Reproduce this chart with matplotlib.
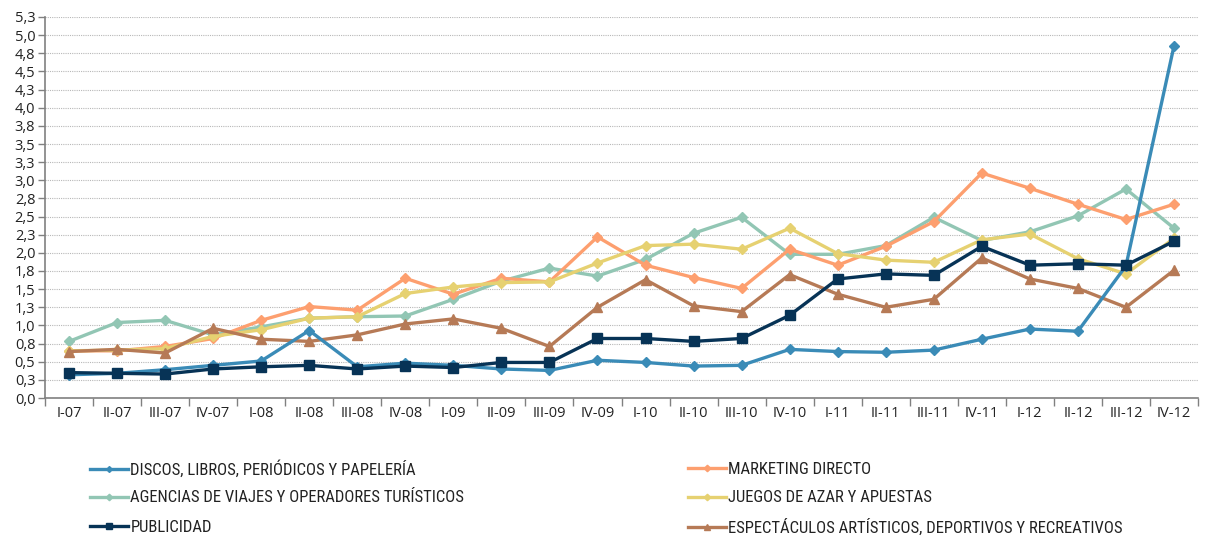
import matplotlib
matplotlib.use("Agg")
import matplotlib.pyplot as plt
from decimal import Decimal, ROUND_HALF_UP
from matplotlib import font_manager
from matplotlib.ticker import MultipleLocator, FuncFormatter

# 1) data
quarters = ["I-07", "II-07", "III-07", "IV-07", "I-08", "II-08", "III-08", "IV-08",
            "I-09", "II-09", "III-09", "IV-09", "I-10", "II-10", "III-10", "IV-10",
            "I-11", "II-11", "III-11", "IV-11", "I-12", "II-12", "III-12", "IV-12"]

discos = [0.32, 0.34, 0.39, 0.45, 0.51, 0.93, 0.43, 0.48, 0.45, 0.40, 0.38, 0.52,
          0.49, 0.44, 0.45, 0.67, 0.64, 0.63, 0.66, 0.81, 0.95, 0.92, 1.82, 4.85]
marketing = [0.65, 0.65, 0.71, 0.82, 1.07, 1.26, 1.21, 1.65, 1.43, 1.65, 1.60, 2.22,
             1.83, 1.66, 1.51, 2.05, 1.83, 2.09, 2.43, 3.10, 2.89, 2.67, 2.46, 2.67]
agencias = [0.78, 1.04, 1.07, 0.87, 0.98, 1.10, 1.12, 1.13, 1.36, 1.61, 1.79, 1.68,
            1.91, 2.27, 2.49, 1.98, 1.98, 2.10, 2.49, 2.17, 2.29, 2.51, 2.88, 2.34]
juegos = [0.65, 0.66, 0.68, 0.85, 0.94, 1.10, 1.12, 1.44, 1.53, 1.59, 1.60, 1.86,
          2.10, 2.12, 2.05, 2.34, 1.99, 1.90, 1.87, 2.18, 2.26, 1.92, 1.71, 2.20]
publicidad = [0.35, 0.34, 0.33, 0.40, 0.43, 0.45, 0.40, 0.44, 0.42, 0.49, 0.49, 0.82,
              0.82, 0.78, 0.82, 1.14, 1.64, 1.71, 1.69, 2.09, 1.83, 1.85, 1.83, 2.16]
espectaculos = [0.64, 0.67, 0.62, 0.96, 0.81, 0.78, 0.87, 1.02, 1.09, 0.96, 0.71, 1.25,
                1.63, 1.27, 1.19, 1.70, 1.43, 1.25, 1.36, 1.93, 1.64, 1.51, 1.25, 1.76]

# 2) style config
names = {
    "discos": "DISCOS, LIBROS, PERIÓDICOS Y PAPELERÍA",
    "marketing": "MARKETING DIRECTO",
    "agencias": "AGENCIAS DE VIAJES Y OPERADORES TURÍSTICOS",
    "juegos": "JUEGOS DE AZAR Y APUESTAS",
    "publicidad": "PUBLICIDAD",
    "espectaculos": "ESPECTÁCULOS ARTÍSTICOS, DEPORTIVOS Y RECREATIVOS",
}
colors = {
    "discos": "#3a8bb7",
    "marketing": "#fd9f6f",
    "agencias": "#92c6b4",
    "juegos": "#e6d171",
    "publicidad": "#073356",
    "espectaculos": "#b67a56",
}
markers = {
    "discos": "D", "marketing": "D", "agencias": "D",
    "juegos": "D", "publicidad": "s", "espectaculos": "^",
}
msizes = {
    "discos": 5, "marketing": 5.5, "agencias": 5.5,
    "juegos": 5.5, "publicidad": 6.5, "espectaculos": 6.5,
}
series = {
    "discos": discos, "marketing": marketing, "agencias": agencias,
    "juegos": juegos, "publicidad": publicidad, "espectaculos": espectaculos,
}
# drawing order (front-most last)
draw_order = ["agencias", "marketing", "juegos", "espectaculos", "discos", "publicidad"]

# look for a narrow face for the legend
fonts = font_manager.fontManager.ttflist
narrow_prop = None
for want in ["Liberation Sans Narrow", "Roboto Condensed", "Open Sans Condensed",
             "Noto Sans Condensed", "DejaVu Sans Condensed"]:
    if any(f.name == want for f in fonts):
        narrow_prop = {"family": want}
        break
if narrow_prop is None:
    cond = [f for f in fonts if str(f.stretch) in ("condensed", "semi-condensed", "600", "700")
            or "Condensed" in f.name or "Narrow" in f.name]
    cond = [f for f in cond if f.weight in (400, "normal", "regular") and f.style == "normal"]
    if cond:
        narrow_prop = {"fname": cond[0].fname}
legend_size = 12 if narrow_prop else 8.5
if narrow_prop is None:
    narrow_prop = {"family": "Liberation Sans"}

tick_font = "Open Sans"


def fmt_comma(v, pos):
    d = Decimal(str(round(v, 4))).quantize(Decimal("0.1"), rounding=ROUND_HALF_UP)
    return str(d).replace(".", ",")


# 3) figure
fig = plt.figure(figsize=(12.08, 5.36), dpi=100)
ax = fig.add_axes([45 / 1208, 1 - 398 / 536, (1198 - 45) / 1208, (398 - 17) / 536])

x = list(range(len(quarters)))
lines = {}
for key in draw_order:
    ln, = ax.plot(x, series[key], color=colors[key], lw=2.4, marker=markers[key],
                  ms=msizes[key], mec=colors[key], mfc=colors[key],
                  label=names[key], solid_joinstyle="round")
    lines[key] = ln

ax.set_xlim(-0.5, len(quarters) - 0.5)
ax.set_ylim(0, 5.25)

ax.yaxis.set_major_locator(MultipleLocator(0.25))
ax.yaxis.set_major_formatter(FuncFormatter(fmt_comma))
ax.grid(axis="y", color="#b8b8b8", lw=0.8, ls=(0, (1, 1)))
ax.set_axisbelow(True)

ax.set_xticks(x)
ax.set_xticklabels(quarters)
ax.set_xticks([i - 0.5 for i in range(len(quarters) + 1)], minor=True)
ax.tick_params(axis="x", which="major", length=0, pad=6, labelsize=10.5,
               labelcolor="#222222")
ax.tick_params(axis="x", which="minor", length=6, color="#808080", width=1)
ax.tick_params(axis="y", length=5, color="#808080", width=1, labelsize=10.5,
               labelcolor="#222222", pad=2)
for lab in ax.get_xticklabels() + ax.get_yticklabels():
    lab.set_fontfamily([tick_font, "DejaVu Sans"])

for s in ["top", "right"]:
    ax.spines[s].set_visible(False)
for s in ["left", "bottom"]:
    ax.spines[s].set_color("#808080")
    ax.spines[s].set_linewidth(1.2)

# 4) legend: one small legend per entry so rows line up across both columns
legend_slots = [
    ("discos", 90, 469), ("marketing", 688, 469),
    ("agencias", 90, 498), ("juegos", 688, 498),
    ("publicidad", 90, 527), ("espectaculos", 688, 527),
]
for key, lx, ly in legend_slots:
    leg = fig.legend([lines[key]], [names[key]], frameon=False,
                     handlelength=2.3, handletextpad=0.12,
                     borderaxespad=0, borderpad=0, markerscale=0.6,
                     prop=dict(narrow_prop, size=legend_size),
                     loc="center left", bbox_to_anchor=(lx / 1208, 1 - ly / 536))
    for t in leg.get_texts():
        t.set_color("#222222")

fig.savefig("out.png", dpi=100)
